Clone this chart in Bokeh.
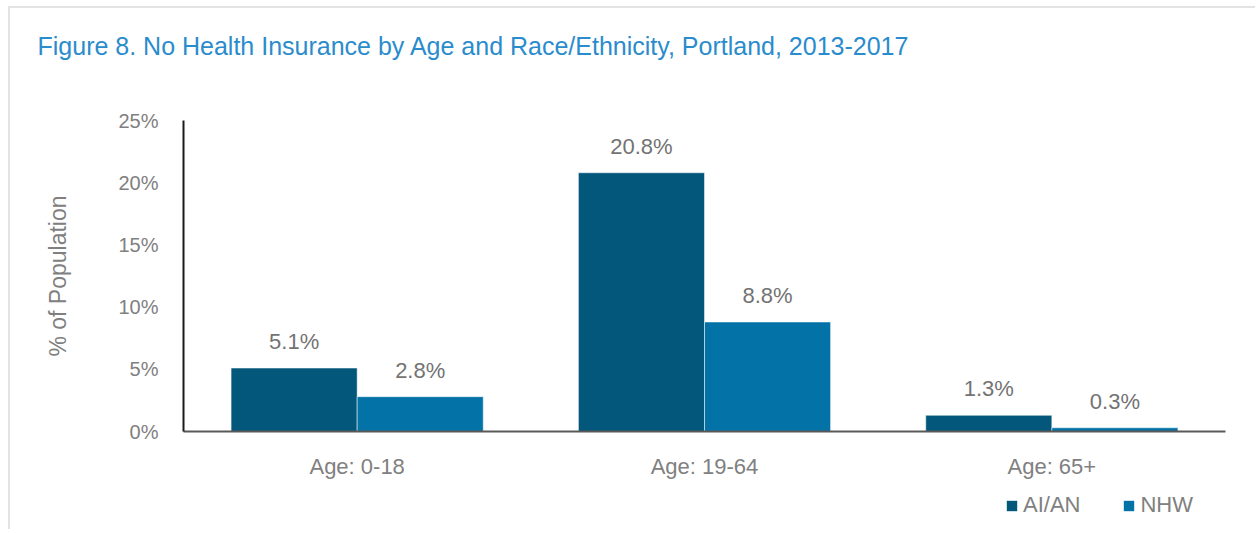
from bokeh.plotting import figure
from bokeh.layouts import column
from bokeh.models import ColumnDataSource, FactorRange, Legend, LegendItem, FixedTicker, CustomJSTickFormatter
from bokeh.transform import dodge
from bokeh.core.properties import value
from bokeh.embed import file_html
from bokeh.resources import INLINE

categories = ["Age: 0-18", "Age: 19-64", "Age: 65+"]
series = ["AI/AN", "NHW"]
aian = [5.1, 20.8, 1.3]
nhw = [2.8, 8.8, 0.3]
y_ticks = [0, 5, 10, 15, 20, 25]
title_text = "Figure 8. No Health Insurance by Age and Race/Ethnicity, Portland, 2013-2017"
y_label = "% of Population"

FONT = "Liberation Sans"
GRAY = "#808080"
C1 = "#02577a"
C2 = "#0272a7"

src = ColumnDataSource(dict(
    cat=categories, aian=aian, nhw=nhw,
    aian_lbl=[f"{v:.1f}%" for v in aian],
    nhw_lbl=[f"{v:.1f}%" for v in nhw],
))

# title strip (frame aligned with the chart frame by the column)
pt = figure(width=1245, height=80, output_backend="svg", toolbar_location=None,
            x_axis_type=None, y_axis_type=None,
            min_border_left=173, min_border_right=30, min_border_top=0, min_border_bottom=0)
pt.grid.visible = False
pt.outline_line_color = None
pt.title.text = title_text
pt.title.text_font = FONT
pt.title.text_font_size = "25px"
pt.title.text_font_style = "normal"
pt.title.text_color = "#2a8ccc"
pt.title.align = "left"
pt.title.offset = -146
pt.title.standoff = 42

p = figure(x_range=FactorRange(*categories, range_padding=0), y_range=(0, 25),
           width=1245, height=405, output_backend="svg", toolbar_location=None,
           min_border_left=173, min_border_right=30, min_border_top=32, min_border_bottom=62)

w = 0.363
p.vbar(x=dodge("cat", -w/2, range=p.x_range), top="aian", width=w, source=src,
       fill_color=C1, line_color="white", line_width=0.5)
p.vbar(x=dodge("cat", w/2, range=p.x_range), top="nhw", width=w, source=src,
       fill_color=C2, line_color="white", line_width=0.5)

p.text(x=dodge("cat", -w/2, range=p.x_range), y="aian", text="aian_lbl", source=src,
       text_align="center", text_baseline="bottom", y_offset=-14,
       text_font=value(FONT), text_font_size="22px", text_color="#737373")
p.text(x=dodge("cat", w/2, range=p.x_range), y="nhw", text="nhw_lbl", source=src,
       text_align="center", text_baseline="bottom", y_offset=-14,
       text_font=value(FONT), text_font_size="22px", text_color="#737373")

p.grid.visible = False
p.outline_line_color = None

p.yaxis.ticker = FixedTicker(ticks=y_ticks)
p.yaxis.formatter = CustomJSTickFormatter(code="return tick + '%';")
p.yaxis.major_tick_line_color = None
p.yaxis.minor_tick_line_color = None
p.yaxis.axis_line_color = "#1a1a1a"
p.yaxis.axis_line_width = 2
p.yaxis.major_label_text_font = FONT
p.yaxis.major_label_text_font_size = "20px"
p.yaxis.major_label_text_color = GRAY
p.yaxis.major_label_standoff = 19
p.yaxis.axis_label = y_label
p.yaxis.axis_label_text_font = FONT
p.yaxis.axis_label_text_font_size = "23px"
p.yaxis.axis_label_text_font_style = "normal"
p.yaxis.axis_label_text_color = GRAY
p.yaxis.axis_label_standoff = 44

p.xaxis.major_tick_line_color = None
p.xaxis.minor_tick_line_color = None
p.xaxis.axis_line_color = "#595959"
p.xaxis.axis_line_width = 2
p.xaxis.major_label_text_font = FONT
p.xaxis.major_label_text_font_size = "22px"
p.xaxis.major_label_text_color = GRAY
p.xaxis.major_label_standoff = 16

# legend strip below the chart (its frame is aligned with the chart frame by the column)
pl = figure(x_range=FactorRange(*categories, range_padding=0), y_range=(100, 101),
            width=1245, height=36, output_backend="svg", toolbar_location=None,
            x_axis_type=None, y_axis_type=None,
            min_border_left=173, min_border_right=30, min_border_top=0, min_border_bottom=0)
pl.grid.visible = False
pl.outline_line_color = None
l1 = pl.vbar(x="cat", top="aian", width=w, source=src, fill_color=C1, line_color=None)
l2 = pl.vbar(x="cat", top="nhw", width=w, source=src, fill_color=C2, line_color=None)
legend = Legend(items=[LegendItem(label=series[0], renderers=[l1]),
                       LegendItem(label=series[1], renderers=[l2])],
                orientation="horizontal", location=(822, 11),
                padding=0, margin=0, spacing=42, glyph_width=13, glyph_height=13,
                label_standoff=5, label_text_font=FONT, label_text_font_size="22px",
                label_text_color=GRAY, border_line_color=None, background_fill_alpha=0)
pl.add_layout(legend, "center")

root = column(pt, p, pl, spacing=0)
root.styles = {"margin-left": "8px", "margin-top": "6px",
               "border-left": "2px solid #e3e3e3", "border-top": "2px solid #e3e3e3"}

open("out.html", "w").write(file_html(root, INLINE))
